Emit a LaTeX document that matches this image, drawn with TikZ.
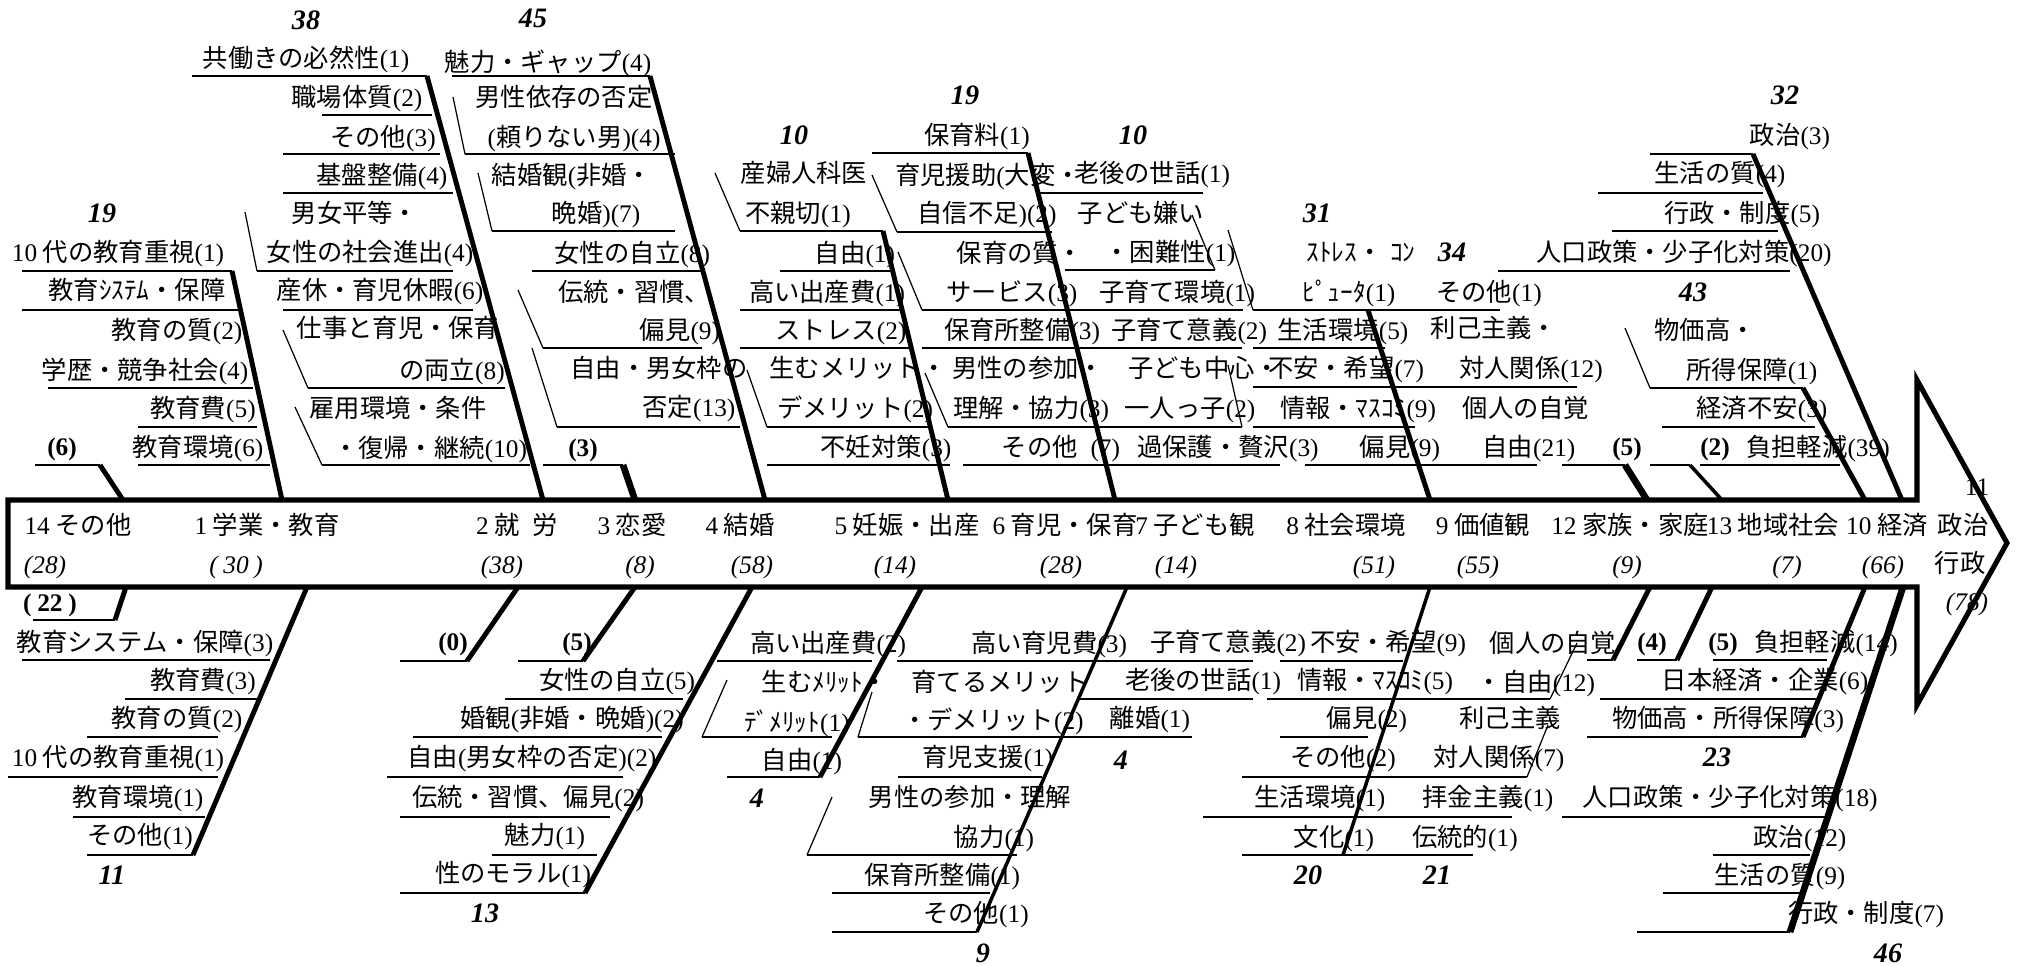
\documentclass[tikz,border=0pt]{standalone}
\usepackage{fontspec}
\setmainfont{Noto Sans CJK JP}
\newfontfamily\numfont{Liberation Serif}
\usetikzlibrary{calc}
% digits and brackets are set in the serif face
\XeTeXinterchartokenstate=1
\XeTeXcharclass`\0=10 \XeTeXcharclass`\1=10 \XeTeXcharclass`\2=10
\XeTeXcharclass`\3=10 \XeTeXcharclass`\4=10 \XeTeXcharclass`\5=10
\XeTeXcharclass`\6=10 \XeTeXcharclass`\7=10 \XeTeXcharclass`\8=10
\XeTeXcharclass`\9=10 \XeTeXcharclass`\(=10 \XeTeXcharclass`\)=10
\XeTeXinterchartoks 0 10={\numfont}
\XeTeXinterchartoks 1 10={\numfont}
\XeTeXinterchartoks 2 10={\numfont}
\XeTeXinterchartoks 3 10={\numfont}
\XeTeXinterchartoks 4095 10={\numfont}
\XeTeXinterchartoks 10 0={\rmfamily}
\XeTeXinterchartoks 10 1={\rmfamily}
\XeTeXinterchartoks 10 2={\rmfamily}
\XeTeXinterchartoks 10 3={\rmfamily}
\XeTeXinterchartoks 10 4095={\rmfamily}
\newcommand\lblsize{\fontsize{14.4}{17}\selectfont}
\newcommand\hdrsize{\fontsize{16}{19}\selectfont}

\begin{document}
\begin{tikzpicture}[x=0.02cm, y=-0.02cm,
  lbl/.style={font=\lblsize, inner sep=0pt, text height=12.5pt, text depth=1.5pt},
  hdr/.style={font=\hdrsize\numfont\bfseries\itshape, inner sep=0pt, text height=12pt, text depth=1pt},
  cnt/.style={font=\lblsize\numfont\bfseries, inner sep=0pt, text height=11pt, text depth=1.5pt},
  tally/.style={font=\lblsize\numfont\itshape, inner sep=0pt, text height=11pt, text depth=1.5pt},
  bone/.style={line width=2.8pt},
  heavy/.style={line width=3.8pt},
  midbone/.style={line width=2pt},
  subline/.style={line width=1pt},
  brk/.style={line width=0.7pt}]
\useasboundingbox (0,0) rectangle (2029,965);

% spine
\draw[line width=2.9pt, line join=miter] (8,500) -- (1917,500) -- (1917,380) -- (2007,543) -- (1917,705) -- (1917,587) -- (8,587) -- cycle;
\node[lbl] (s14) at (78,525) {14 その他};
\node[lbl] (s1) at (267,525) {1 学業・教育};
\node[lbl] (s2) at (517,525) {2 就\hspace{.5em}労};
\node[lbl] (s3) at (632,525) {3 恋愛};
\node[lbl] (s4) at (740,525) {4 結婚};
\node[lbl] (s5) at (907,525) {5 妊娠・出産};
\node[lbl] (s6) at (1065,525) {6 育児・保育};
\node[lbl] (s7) at (1195,525) {7 子ども観};
\node[lbl] (s8) at (1346,525) {8 社会環境};
\node[lbl] (s9) at (1483,525) {9 価値観};
\node[lbl] (s12) at (1630,525) {12 家族・家庭};
\node[lbl] (s13) at (1773,525) {13 地域社会};
\node[lbl] (s10) at (1887,525) {10 経済};
\node[lbl] (s11a) at (1963,525) {政治};
\node[lbl] (s11b) at (1960,563) {行政};
\node[font=\lblsize\numfont, inner sep=0pt] (s11n) at (1977,487) {11};
\node[tally] (n14) at (45,565) {(28)};
\node[tally] (n1) at (236,565) {( 30 )};
\node[tally] (n2) at (502,565) {(38)};
\node[tally] (n3) at (640,565) {(8)};
\node[tally] (n4) at (752,565) {(58)};
\node[tally] (n5) at (895,565) {(14)};
\node[tally] (n6) at (1061,565) {(28)};
\node[tally] (n7) at (1176,565) {(14)};
\node[tally] (n8) at (1374,565) {(51)};
\node[tally] (n9) at (1478,565) {(55)};
\node[tally] (n12) at (1627,565) {(9)};
\node[tally] (n13) at (1787,565) {(7)};
\node[tally] (n10) at (1883,565) {(66)};
\node[tally] (n11) at (1967,602) {(78)};

% upper bones
\coordinate (a14u) at (100,465); \coordinate (a14s) at (123,500);
\node[cnt] (a14h) at (62,447) {(6)};
\draw[subline] (35,465) -- (a14u); \draw[bone] (a14u) -- (a14s);

\coordinate (a1u) at (232,271); \coordinate (a1s) at (282,500);
\node[hdr] (a1h) at (102,213) {19};
\node[lbl] (a1a) at (118,252) {10 代の教育重視(1)};
\node[lbl] (a1b) at (137,290) {教育ｼｽﾃﾑ・保障};
\node[lbl] (a1c) at (177,330) {教育の質(2)};
\node[lbl] (a1d) at (145,370) {学歴・競争社会(4)};
\node[lbl] (a1e) at (203,408) {教育費(5)};
\node[lbl] (a1f) at (198,447) {教育環境(6)};
\draw[subline] (22,271) -- (a1u);
\draw[subline] (22,310) -- (240,310);
\draw[subline] (48,388) -- (253,388);
\draw[subline] (138,427) -- (257,427);
\draw[subline] (138,465) -- (270,465);
\draw[bone] (a1u) -- (a1s);

\coordinate (a2u) at (427,76); \coordinate (a2s) at (543,500);
\node[hdr] (a2h) at (306,20) {38};
\node[lbl] (a2a) at (306,58) {共働きの必然性(1)};
\node[lbl] (a2b) at (357,97) {職場体質(2)};
\node[lbl] (a2c) at (383,137) {その他(3)};
\node[lbl] (a2d) at (382,175) {基盤整備(4)};
\node[lbl] (a2e) at (355,213) {男女平等・};
\node[lbl] (a2f) at (370,252) {女性の社会進出(4)};
\node[lbl] (a2g) at (380,290) {産休・育児休暇(6)};
\node[lbl] (a2i) at (398,328) {仕事と育児・保育};
\node[lbl] (a2j) at (452,370) {の両立(8)};
\node[lbl] (a2k) at (398,408) {雇用環境・条件};
\node[lbl] (a2l) at (430,448) {・復帰・継続(10)};
\draw[subline] (192,76) -- (a2u);
\draw[subline] (322,115) -- (432,115);
\draw[subline] (283,154) -- (440,154);
\draw[subline] (283,193) -- (453,193);
\draw[brk] (245,212) -- (257,271); \draw[subline] (257,271) -- (453,271);
\draw[subline] (283,310) -- (473,310);
\draw[brk] (283,330) -- (308,388); \draw[subline] (308,388) -- (505,388);
\draw[brk] (295,407) -- (322,465); \draw[subline] (322,465) -- (530,465);
\draw[bone] (a2u) -- (a2s);

\coordinate (a3u) at (623,465); \coordinate (a3s) at (635,500);
\node[cnt] (a3h) at (583,448) {(3)};
\draw[subline] (543,465) -- (a3u); \draw[heavy] (a3u) -- (a3s);

\coordinate (a4u) at (650,76); \coordinate (a4s) at (765,500);
\node[hdr] (a4h) at (533,18) {45};
\node[lbl] (a4a) at (548,62) {魅力・ギャップ(4)};
\node[lbl] (a4b) at (564,97) {男性依存の否定};
\node[lbl] (a4c) at (574,137) {(頼りない男)(4)};
\node[lbl] (a4d) at (572,175) {結婚観(非婚・};
\node[lbl] (a4e) at (596,213) {晩婚)(7)};
\node[lbl] (a4f) at (632,253) {女性の自立(8)};
\node[lbl] (a4g) at (634,292) {伝統・習慣、};
\node[lbl] (a4i) at (680,330) {偏見(9)};
\node[lbl] (a4j) at (659,368) {自由・男女枠の};
\node[lbl] (a4k) at (689,407) {否定(13)};
\draw[subline] (452,76) -- (a4u);
\draw[brk] (453,97) -- (465,154); \draw[subline] (465,154) -- (675,154);
\draw[brk] (478,173) -- (492,231); \draw[subline] (492,231) -- (675,231);
\draw[subline] (532,271) -- (702,271);
\draw[brk] (518,290) -- (543,348); \draw[subline] (543,348) -- (702,348);
\draw[brk] (532,348) -- (557,427); \draw[subline] (557,427) -- (740,427);
\draw[bone] (a4u) -- (a4s);

\coordinate (a5u) at (883,231); \coordinate (a5s) at (948,500);
\node[hdr] (a5h) at (794,135) {10};
\node[lbl] (a5a) at (804,173) {産婦人科医};
\node[lbl] (a5b) at (798,213) {不親切(1)};
\node[lbl] (a5c) at (855,253) {自由(1)};
\node[lbl] (a5d) at (827,292) {高い出産費(1)};
\node[lbl] (a5e) at (841,330) {ストレス(2)};
\node[lbl] (a5f) at (858,368) {生むメリット・};
\node[lbl] (a5g) at (855,408) {デメリット(2)};
\node[lbl] (a5i) at (886,447) {不妊対策(3)};
\draw[brk] (715,173) -- (740,231); \draw[subline] (740,231) -- (a5u);
\draw[subline] (780,271) -- (893,271);
\draw[subline] (740,310) -- (902,310);
\draw[subline] (740,348) -- (910,348);
\draw[brk] (747,370) -- (767,427); \draw[subline] (767,427) -- (930,427);
\draw[subline] (767,465) -- (950,465);
\draw[bone] (a5u) -- (a5s);

\coordinate (a6u) at (1028,153); \coordinate (a6s) at (1115,500);
\node[hdr] (a6h) at (965,95) {19};
\node[lbl] (a6a) at (977,135) {保育料(1)};
\node[lbl] (a6b) at (988,175) {育児援助(大変・};
\node[lbl] (a6c) at (987,213) {自信不足)(2)};
\node[lbl] (a6d) at (1020,253) {保育の質・};
\node[lbl] (a6e) at (1012,292) {サービス(3)};
\node[lbl] (a6f) at (1022,330) {保育所整備(3)};
\node[lbl] (a6g) at (1028,368) {男性の参加・};
\node[lbl] (a6i) at (1031,408) {理解・協力(3)};
\node[lbl] (a6j) at (1061,447) {その他\hspace{.5em}(7)};
\draw[subline] (872,153) -- (a6u);
\draw[brk] (872,175) -- (897,232); \draw[subline] (897,232) -- (1052,232);
\draw[brk] (898,252) -- (922,310); \draw[subline] (922,310) -- (1243,310);
\draw[subline] (922,348) -- (1242,348);
\draw[brk] (925,373) -- (948,427); \draw[subline] (948,427) -- (1242,427);
\draw[subline] (963,465) -- (1280,465);
\draw[bone] (a6u) -- (a6s);

\node[hdr] (a7h) at (1133,135) {10};
\node[lbl] (a7a) at (1152,173) {老後の世話(1)};
\node[lbl] (a7b) at (1141,213) {子ども嫌い};
\node[lbl] (a7c) at (1170,252) {・困難性(1)};
\node[lbl] (a7d) at (1177,292) {子育て環境(1)};
\node[lbl] (a7e) at (1189,330) {子育て意義(2)};
\node[lbl] (a7f) at (1204,368) {子ども中心・};
\node[lbl] (a7g) at (1190,408) {一人っ子(2)};
\node[lbl] (a7i) at (1228,447) {過保護・贅沢(3)};
\draw[subline] (1040,193) -- (1203,193);
\draw[subline] (1065,270) -- (1215,270); \draw[brk] (1215,270) -- (1192,215);
\draw[brk] (1228,365) -- (1242,427);

\coordinate (a8u) at (1368,310); \coordinate (a8s) at (1430,500);
\node[hdr] (a8h) at (1317,213) {31};
\node[lbl] (a8a) at (1361,252) {ｽﾄﾚｽ・\hspace{.3em}ｺﾝ};
\node[lbl] (a8b) at (1349,292) {ﾋﾟｭｰﾀ(1)};
\node[lbl] (a8c) at (1343,330) {生活環境(5)};
\node[lbl] (a8d) at (1346,368) {不安・希望(7)};
\node[lbl] (a8e) at (1358,408) {情報・ﾏｽｺﾐ(9)};
\node[lbl] (a8f) at (1400,447) {偏見(9)};
\draw[brk] (1228,230) -- (1253,310); \draw[subline] (1253,310) -- (1500,310);
\draw[subline] (1253,348) -- (1385,348);
\draw[subline] (1253,387) -- (1577,387);
\draw[subline] (1253,427) -- (1415,427);
\draw[subline] (1305,465) -- (1537,465);
\draw[bone] (a8u) -- (a8s);

\node[hdr] (a9h) at (1452,252) {34};
\node[lbl] (a9a) at (1489,292) {その他(1)};
\node[lbl] (a9b) at (1494,328) {利己主義・};
\node[lbl] (a9c) at (1531,368) {対人関係(12)};
\node[lbl] (a9d) at (1526,408) {個人の自覚};
\node[lbl] (a9e) at (1529,447) {自由(21)};

\coordinate (a12u) at (1625,465); \coordinate (a12s) at (1647,500);
\node[cnt] (a12h) at (1627,447) {(5)};
\draw[subline] (1562,465) -- (a12u); \draw[heavy] (a12u) -- (a12s);

\coordinate (a13u) at (1690,465); \coordinate (a13s) at (1722,500);
\draw[subline] (1650,465) -- (a13u); \draw[midbone] (a13u) -- (a13s);

\coordinate (a10u) at (1753,154); \coordinate (a10s) at (1902,500);
\coordinate (a10v) at (1803,388); \coordinate (a10t) at (1865,500);
\node[hdr] (a10h) at (1785,95) {32};
\node[lbl] (a10a) at (1790,135) {政治(3)};
\node[lbl] (a10b) at (1720,173) {生活の質(4)};
\node[lbl] (a10c) at (1742,213) {行政・制度(5)};
\node[lbl] (a10d) at (1684,252) {人口政策・少子化対策(20)};
\node[hdr] (a10i) at (1693,292) {43};
\node[lbl] (a10e) at (1705,330) {物価高・};
\node[lbl] (a10f) at (1752,370) {所得保障(1)};
\node[lbl] (a10g) at (1762,408) {経済不安(3)};
\node[cnt] (a10k) at (1715,447) {(2)};
\node[lbl] (a10j) at (1818,447) {負担軽減(39)};
\draw[subline] (1650,154) -- (a10u);
\draw[subline] (1598,193) -- (1763,193);
\draw[subline] (1612,231) -- (1778,231);
\draw[subline] (1498,271) -- (1790,271);
\draw[brk] (1625,328) -- (1650,388); \draw[subline] (1650,388) -- (a10v);
\draw[subline] (1662,427) -- (1815,427);
\draw[subline] (1700,465) -- (1840,465);
\draw[bone] (a10u) -- (a10s);
\draw[bone] (a10v) -- (a10t);

% lower bones
\coordinate (b14s) at (126,587); \coordinate (b14l) at (115,620);
\node[cnt] (b14h) at (50,603) {( 22 )};
\draw[bone] (b14s) -- (b14l); \draw[subline] (b14l) -- (33,620);

\coordinate (b1s) at (307,587); \coordinate (b1l) at (193,855);
\node[lbl] (b1a) at (145,642) {教育システム・保障(3)};
\node[lbl] (b1b) at (203,680) {教育費(3)};
\node[lbl] (b1c) at (177,718) {教育の質(2)};
\node[lbl] (b1d) at (118,757) {10 代の教育重視(1)};
\node[lbl] (b1e) at (138,797) {教育環境(1)};
\node[lbl] (b1f) at (140,835) {その他(1)};
\node[hdr] (b1h) at (112,875) {11};
\draw[subline] (22,660) -- (270,660);
\draw[subline] (125,699) -- (257,699);
\draw[subline] (87,737) -- (218,737);
\draw[subline] (8,777) -- (218,777);
\draw[subline] (73,817) -- (205,817);
\draw[subline] (87,855) -- (b1l);
\draw[bone] (b1s) -- (b1l);

\coordinate (b2s) at (518,587); \coordinate (b2l) at (467,661);
\node[cnt] (b2h) at (453,642) {(0)};
\draw[bone] (b2s) -- (b2l); \draw[subline] (b2l) -- (400,661);

\coordinate (b3s) at (635,587); \coordinate (b3l) at (583,661);
\node[cnt] (b3h) at (577,642) {(5)};
\draw[bone] (b3s) -- (b3l); \draw[subline] (b3l) -- (518,661);

\coordinate (b4s) at (752,587); \coordinate (b4l) at (585,893);
\node[lbl] (b4a) at (617,680) {女性の自立(5)};
\node[lbl] (b4b) at (572,718) {婚観(非婚・晩婚)(2)};
\node[lbl] (b4c) at (532,757) {自由(男女枠の否定)(2)};
\node[lbl] (b4d) at (528,797) {伝統・習慣、偏見(2)};
\node[lbl] (b4e) at (545,835) {魅力(1)};
\node[lbl] (b4f) at (513,873) {性のモラル(1)};
\node[hdr] (b4h) at (485,913) {13};
\draw[subline] (505,699) -- (683,699);
\draw[subline] (413,737) -- (662,737);
\draw[subline] (387,777) -- (623,777);
\draw[subline] (400,817) -- (610,817);
\draw[subline] (492,855) -- (597,855);
\draw[subline] (400,893) -- (b4l);
\draw[bone] (b4s) -- (b4l);

\coordinate (b5s) at (922,587); \coordinate (b5l) at (820,777);
\node[lbl] (b5a) at (828,643) {高い出産費(2)};
\node[lbl] (b5b) at (825,682) {生むﾒﾘｯﾄ・};
\node[lbl] (b5c) at (797,722) {ﾃﾞﾒﾘｯﾄ(1)};
\node[lbl] (b5d) at (802,760) {自由(1)};
\node[hdr] (b5h) at (757,798) {4};
\draw[subline] (717,661) -- (872,661);
\draw[brk] (727,680) -- (702,737); \draw[subline] (702,737) -- (832,737);
\draw[subline] (727,777) -- (b5l);
\draw[bone] (b5s) -- (b5l);

\coordinate (b6s) at (1127,587); \coordinate (b6l) at (977,932);
\node[lbl] (b6a) at (1049,643) {高い育児費(3)};
\node[lbl] (b6b) at (1000,682) {育てるメリット};
\node[lbl] (b6c) at (993,720) {・デメリット(2)};
\node[lbl] (b6d) at (988,757) {育児支援(1)};
\node[lbl] (b6e) at (970,797) {男性の参加・理解};
\node[lbl] (b6f) at (994,837) {協力(1)};
\node[lbl] (b6g) at (942,875) {保育所整備(1)};
\node[lbl] (b6i) at (976,913) {その他(1)};
\node[hdr] (b6h) at (983,953) {9};
\draw[subline] (897,661) -- (1253,661);
\draw[brk] (872,692) -- (858,737); \draw[subline] (858,737) -- (1192,737);
\draw[subline] (898,777) -- (1042,777);
\draw[brk] (832,797) -- (807,855); \draw[subline] (807,855) -- (1017,855);
\draw[subline] (832,893) -- (990,893);
\draw[subline] (832,932) -- (b6l);
\draw[midbone] (b6s) -- (b6l);

\node[lbl] (b7a) at (1228,642) {子育て意義(2)};
\node[lbl] (b7b) at (1203,680) {老後の世話(1)};
\node[lbl] (b7c) at (1150,718) {離婚(1)};
\node[hdr] (b7h) at (1121,760) {4};
\draw[subline] (1077,699) -- (1253,699);

\coordinate (b8s) at (1430,587); \coordinate (b8l) at (1343,855);
\node[lbl] (b8a) at (1388,642) {不安・希望(9)};
\node[lbl] (b8b) at (1375,680) {情報・ﾏｽｺﾐ(5)};
\node[lbl] (b8c) at (1367,718) {偏見(2)};
\node[lbl] (b8d) at (1343,757) {その他(2)};
\node[lbl] (b8e) at (1320,797) {生活環境(1)};
\node[lbl] (b8f) at (1334,837) {文化(1)};
\node[hdr] (b8h) at (1308,875) {20};
\draw[subline] (1280,661) -- (1403,661);
\draw[subline] (1267,699) -- (1550,699); \draw[brk] (1550,699) -- (1577,643);
\draw[subline] (1280,737) -- (1368,737);
\draw[subline] (1242,777) -- (1527,777); \draw[brk] (1527,777) -- (1548,725);
\draw[subline] (1203,817) -- (1512,817);
\draw[subline] (1242,855) -- (1473,855);
\draw[midbone] (b8s) -- (b8l);

\node[lbl] (b9a) at (1553,643) {個人の自覚};
\node[lbl] (b9b) at (1536,682) {・自由(12)};
\node[lbl] (b9c) at (1510,718) {利己主義};
\node[lbl] (b9d) at (1499,757) {対人関係(7)};
\node[lbl] (b9e) at (1488,797) {拝金主義(1)};
\node[lbl] (b9f) at (1465,837) {伝統的(1)};
\node[hdr] (b9h) at (1437,875) {21};

\coordinate (b12s) at (1650,587); \coordinate (b12l) at (1613,660);
\node[cnt] (b12h) at (1652,642) {(4)};
\draw[bone] (b12s) -- (b12l); \draw[subline] (b12l) -- (1587,660);

\coordinate (b13s) at (1712,587); \coordinate (b13l) at (1677,660);
\node[cnt] (b13h) at (1723,642) {(5)};
\draw[bone] (b13s) -- (b13l); \draw[subline] (b13l) -- (1637,660);

\coordinate (b10s) at (1865,587); \coordinate (b10l) at (1803,737);
\coordinate (b10t) at (1903,587); \coordinate (b10m) at (1790,932);
\node[lbl] (b10a) at (1826,642) {負担軽減(14)};
\node[lbl] (b10b) at (1765,680) {日本経済・企業(6)};
\node[lbl] (b10c) at (1728,718) {物価高・所得保障(3)};
\node[hdr] (b10h) at (1717,757) {23};
\node[lbl] (b10d) at (1730,797) {人口政策・少子化対策(18)};
\node[lbl] (b10e) at (1800,837) {政治(12)};
\node[lbl] (b10f) at (1780,875) {生活の質(9)};
\node[lbl] (b10g) at (1866,913) {行政・制度(7)};
\node[hdr] (b10i) at (1888,953) {46};
\draw[subline] (1713,660) -- (1827,660);
\draw[subline] (1600,699) -- (1817,699);
\draw[subline] (1587,737) -- (b10l);
\draw[subline] (1562,817) -- (1827,817);
\draw[subline] (1713,855) -- (1810,855);
\draw[subline] (1663,893) -- (1803,893);
\draw[subline] (1637,932) -- (b10m);
\draw[bone] (b10s) -- (b10l);
\draw[heavy] (b10t) -- (b10m);
\end{tikzpicture}
\end{document}
